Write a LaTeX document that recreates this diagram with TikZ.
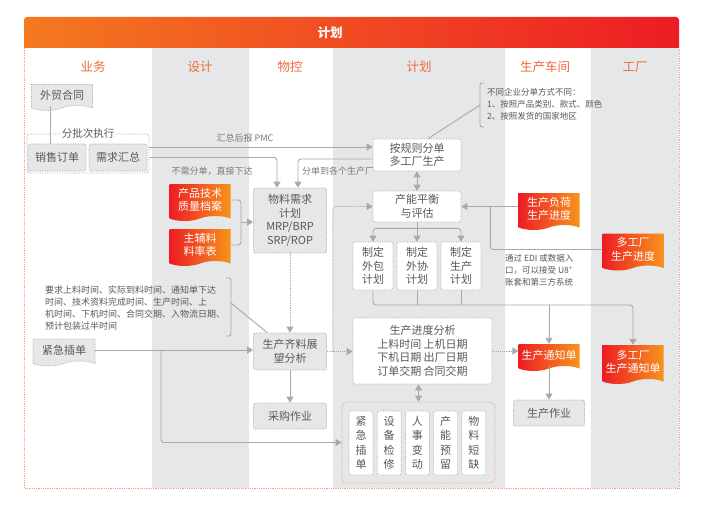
\documentclass[tikz,border=0pt]{standalone}
\usepackage{fontspec}
\setmainfont{Noto Sans CJK SC}
\usepackage{xcolor}
\usepackage{tikz}
\usetikzlibrary{arrows.meta, positioning, calc, shapes.symbols}

\definecolor{lanegray}{HTML}{E6E7E8}
\definecolor{linegray}{HTML}{A7A9AC}
\definecolor{txtgray}{HTML}{595959}
\definecolor{headorange}{HTML}{F26A3B}
\definecolor{barorange}{HTML}{F47920}
\definecolor{barred}{HTML}{ED1C24}
\definecolor{docred}{HTML}{ED1C24}
\definecolor{docorange}{HTML}{F7941D}
\definecolor{frameorange}{HTML}{F6A27A}

\tikzset{
  lanehead/.style={text=headorange, inner sep=1pt, font=\fontsize{12.5}{14}\selectfont},
  box/.style={draw=linegray, densely dotted, line width=0.7pt, rounded corners=2pt, fill=white,
    text=txtgray, align=center, inner sep=1pt, font=\fontsize{11}{13.5}\selectfont},
  graybox/.style={box, fill=lanegray},
  doc/.style={tape, tape bend top=none, tape bend height=5pt, draw=linegray, densely dotted,
    line width=0.7pt, fill=lanegray, text=txtgray, align=center, inner sep=1pt,
    font=\fontsize{11}{13.5}\selectfont},
  hotdoc/.style={tape, tape bend top=none, tape bend height=5pt, left color=docred,
    right color=docorange, text=white, align=center, inner sep=1pt,
    font=\fontsize{11}{13.5}\selectfont},
  memo/.style={text=txtgray, align=left, inner sep=0pt, font=\fontsize{8.5}{12}\selectfont},
  tag/.style={text=txtgray!80, inner sep=1pt, font=\fontsize{9}{11}\selectfont},
  wire/.style={draw=linegray, line width=0.9pt, rounded corners=3pt},
  link/.style={wire, -{Triangle[width=7pt,length=6pt]}},
  twoway/.style={wire, {Triangle[width=7pt,length=6pt]}-{Triangle[width=7pt,length=6pt]}},
  dotlink/.style={link, densely dotted},
}

\begin{document}
\begin{tikzpicture}[x=1pt, y=-1pt]
  \useasboundingbox (0,0) rectangle (719,505);

  % Lanes
  \fill[white] (24,48) rectangle (679,488);
  \fill[lanegray] (152,48) rectangle (249,488);
  \fill[lanegray] (333,48) rectangle (505,488);
  \fill[lanegray] (591,48) rectangle (679,488);
  \draw[frameorange, densely dotted, line width=0.8pt] (24,48) -- (24,488) -- (679,488) -- (679,48);

  % Header bar
  \shade[left color=barorange, right color=barred] (24,48) [rounded corners=3pt] -- (24,17)
    -- (679,17) [sharp corners] -- (679,48) -- cycle;
  \node[text=white, font=\fontsize{12.5}{14}\selectfont\bfseries] (title) at (330,33) {计划};

  % Lane heads
  \node[lanehead] (hyewu) at (93,67) {业务};
  \node[lanehead] (hsheji) at (200,67) {设计};
  \node[lanehead] (hwukong) at (290,67) {物控};
  \node[lanehead] (hjihua) at (419,67) {计划};
  \node[lanehead] (hchejian) at (545,67) {生产车间};
  \node[lanehead] (hgongchang) at (635,67) {工厂};

  % Sales
  \node[doc, minimum width=61, minimum height=26] (waimao) at (62,95) {外贸合同};
  \node[draw=linegray, densely dotted, line width=0.7pt, rounded corners=3pt,
    minimum width=122, minimum height=39] (fenpi) at (88,153.5) {};
  \node[fill=white, text=txtgray, inner sep=1pt, font=\fontsize{10.5}{12}\selectfont] (fenpitag) at (88,134) {分批次执行};
  \node[graybox, minimum width=58, minimum height=27] (xiaoshou) at (57,157.5) {销售订单};
  \node[graybox, minimum width=58, minimum height=27] (xuqiu) at (118,157.5) {需求汇总};
  \draw[wire] ([xshift=-12pt]waimao.south) -- ([xshift=-7pt]xiaoshou.north);

  % Design
  \node[hotdoc, minimum width=61, minimum height=37] (chanpin) at (200,200) {产品技术\\质量档案};
  \node[hotdoc, minimum width=61, minimum height=37] (zhufu) at (200,245) {主辅料\\料率表};
  \coordinate (brk) at (241,222);
  \draw[wire] (chanpin.east) -| (brk) |- (zhufu.east);

  % Material control
  \node[graybox, minimum width=73, minimum height=65] (wuliao) at (290,220.5) {物料需求\\计划\\MRP/BRP\\SRP/ROP};
  \node[graybox, minimum width=73, minimum height=37] (qiliao) at (290,351.5) {生产齐料展\\望分析};
  \node[graybox, minimum width=73, minimum height=26] (caigou) at (290,416) {采购作业};

  % Planning
  \node[box, minimum width=88, minimum height=32] (guize) at (417,155) {按规则分单\\多工厂生产};
  \node[box, minimum width=88, minimum height=31] (channeng) at (417,206.5) {产能平衡\\与评估};
  \node[box, minimum width=40, minimum height=48] (waibao) at (373,266) {制定\\外包\\计划};
  \node[box, minimum width=40, minimum height=48] (waixie) at (417,266) {制定\\外协\\计划};
  \node[box, minimum width=40, minimum height=48] (zhiding) at (461,266) {制定\\生产\\计划};
  \node[box, minimum width=139, minimum height=66] (jindu) at (422.5,351) {生产进度分析\\上料时间\ 上机日期\\下机日期\ 出厂日期\\订单交期\ 合同交期};
  \node[draw=frameorange, densely dotted, line width=0.8pt, rounded corners=5pt,
    minimum width=153, minimum height=81] (yinsu) at (418.5,442.5) {};
  \foreach \txt [count=\i] in {紧\\急\\插\\单, 设\\备\\检\\修, 人\\事\\变\\动, 产\\能\\预\\留, 物\\料\\短\\缺}
    \node[box, minimum width=24, minimum height=64, font=\fontsize{11}{14.5}\selectfont] (yz\i) at ({332.8+28.2*\i},443) {\txt};

  % Workshop and factories
  \node[hotdoc, minimum width=61, minimum height=37] (fuhe) at (549,209) {生产负荷\\生产进度};
  \node[hotdoc, minimum width=61, minimum height=37] (duojd) at (633,249.5) {多工厂\\生产进度};
  \node[hotdoc, minimum width=61, minimum height=27] (tongzhi) at (549,355) {生产通知单};
  \node[hotdoc, minimum width=61, minimum height=39] (duotz) at (633,362) {多工厂\\生产通知单};
  \node[graybox, minimum width=71, minimum height=26] (zuoye) at (549,413) {生产作业};

  % Notes
  \node[memo, anchor=west] (fenfa) at (487,104) {不同企业分单方式不同：\\1、按照产品类别、款式、颜色\\2、按照发货的国家地区};
  \draw[wire, rounded corners=2pt] (484,83) -- (480,83) -- (480,127) -- (484,127);
  \coordinate (fenfatip) at (480,105);
  \node[memo, anchor=west] (edi) at (505,270) {通过 EDI 或数据入\\口，可以接受 U8\textsuperscript{+}\\账套和第三方系统};
  \node[memo, anchor=west, font=\fontsize{9}{12}\selectfont] (yaoqiu) at (45,308) {要求上料时间、实际到料时间、通知单下达\\时间、技术资料完成时间、生产时间、上\\机时间、下机时间、合同交期、入物流日期、\\预计包装过半时间};
  \draw[wire, rounded corners=2pt] (226,278) -- (231,278) -- (231,336) -- (226,336);
  \coordinate (yqtip) at (231,303);
  \node[doc, minimum width=62, minimum height=27] (jinji) at (64,350) {紧急插单};

  % Connectors
  \draw[link] (fenpi.east |- 0,147) -- (guize.west |- 0,147);
  \node[tag] (pmc) at (245,138) {汇总后报 PMC};
  \draw[link] (fenpi.east |- xuqiu.east) -| ([xshift=-13pt]wuliao.north);
  \node[tag] (zhijie) at (212,171) {不需分单，直接下达};
  \draw[link] ([yshift=-4pt]guize.west) -| ([xshift=8pt]wuliao.north);
  \node[tag] (fendan) at (338,171) {分单到各个生产厂};
  \draw[link] (brk) -- (wuliao.west |- brk);
  \draw[wire] ([xshift=11pt]guize.north) -- (fenfatip);
  \draw[twoway] (guize.south) -- (channeng.north);
  \draw[link] (channeng.south) -- (waixie.north);
  \draw[link] ([yshift=-6pt]channeng.south) -| (waibao.north);
  \draw[link] ([yshift=-6pt]channeng.south) -| (zhiding.north);
  \draw[link] (fuhe.west |- channeng.east) -- (channeng.east);
  \draw[wire] (duojd.west) -| ([xshift=29pt]channeng.east);
  \draw[wire] (waixie.south) -- (waixie.south |- 0,305);
  \draw[wire] (zhiding.south) -- (zhiding.south |- 0,305);
  \draw[link] (waibao.south) |- (duotz.north |- 0,305) -- (duotz.north);
  \draw[link] (tongzhi.north |- 0,305) -- (tongzhi.north);
  \draw[dotlink] (wuliao.south) -- (qiliao.north);
  \draw[link] (qiliao.south) -- (caigou.north);
  \draw[dotlink] (qiliao.east) -- (jindu.west |- qiliao.east);
  \draw[dotlink] ([xshift=6pt]qiliao.east) |- (channeng.west);
  \draw[wire] (yqtip) -- ([xshift=14pt]qiliao.north west);
  \draw[link] (jinji.east) -- (qiliao.west |- jinji.east);
  \draw[link] (jinji.east -| 161,0) |- (yinsu.west);
  \draw[dotlink] (jindu.east) -- (jindu.east -| tongzhi.west);
  \draw[twoway] (jindu.south -| yinsu.north) -- (yinsu.north);
  \draw[link] (tongzhi.south) -- (zuoye.north);
\end{tikzpicture}
\end{document}
